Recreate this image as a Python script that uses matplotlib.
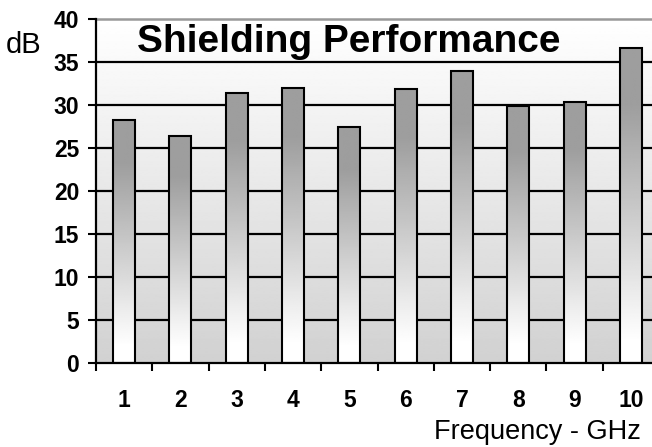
import numpy as np
import matplotlib
matplotlib.use("Agg")
import matplotlib.pyplot as plt

frequencies = [1, 2, 3, 4, 5, 6, 7, 8, 9, 10]
shielding_db = [28.3, 26.4, 31.4, 32.0, 27.4, 31.9, 33.9, 29.9, 30.4, 36.6]
y_ticks = [0, 5, 10, 15, 20, 25, 30, 35, 40]
title_text = "Shielding Performance"
y_label = "dB"
x_label = "Frequency - GHz"

plt.rcParams['font.family'] = ['Liberation Sans', 'DejaVu Sans']

W, H = 652, 447
fig = plt.figure(figsize=(W / 100, H / 100), dpi=100)
fig.patch.set_facecolor('white')
ax = fig.add_axes([96 / W, (H - 363) / H, 563 / W, 344 / H])

ax.set_xlim(0.5, 10.5)
ax.set_ylim(0, 40)

# background gradient
bg = np.linspace(0.82, 1.0, 256).reshape(-1, 1)
ax.imshow(bg, cmap='gray', vmin=0, vmax=1, aspect='auto', origin='lower',
          extent=[0.5, 10.5, 0, 40], zorder=0, interpolation='bilinear')

# gridlines
for yv in y_ticks[1:-1]:
    ax.axhline(yv, color='black', lw=1.6, zorder=1)
ax.axhline(40, color='#999999', lw=1.8, zorder=1, clip_on=False)

# bars with gradient
bw = 0.39
f = np.linspace(0, 1, 256)
vals = 1 - (1 - 0.62) * np.clip((f - 0.07) / 0.75, 0, 1)
grad = vals.reshape(-1, 1)
bars = ax.bar(frequencies, shielding_db, width=bw, facecolor='none',
              edgecolor='black', linewidth=1.5, zorder=3)
for rect in bars:
    x0 = rect.get_x()
    h = rect.get_height()
    im = ax.imshow(grad, cmap='gray', vmin=0, vmax=1, aspect='auto', origin='lower',
                   extent=[x0, x0 + bw, 0, h], zorder=2, interpolation='bilinear')
    im.set_clip_path(rect)

ax.set_xlim(0.5, 10.5)
ax.set_ylim(0, 40)

# spines
for s in ['top', 'right']:
    ax.spines[s].set_visible(False)
ax.spines['left'].set_linewidth(1.6)
ax.spines['bottom'].set_linewidth(1.6)
ax.spines['left'].set_zorder(4)
ax.spines['bottom'].set_zorder(4)

# ticks
ax.set_yticks(y_ticks)
ax.set_yticklabels([str(v) for v in y_ticks], fontsize=16.5, fontweight='bold')
ax.tick_params(axis='y', length=6, width=1.5, pad=6, direction='out')

boundaries = [v + 0.5 for v in [0] + frequencies]
ax.set_xticks(boundaries)
ax.set_xticklabels([''] * len(boundaries))
ax.tick_params(axis='x', which='major', length=6, width=1.5, direction='out')
ax.set_xticks(frequencies, minor=True)
ax.set_xticklabels([str(v) for v in frequencies], minor=True, fontsize=16.5, fontweight='bold')
ax.tick_params(axis='x', which='minor', length=0, pad=19)

# texts
fig.text(137 / W, (H - 52) / H, title_text, fontsize=28, fontweight='bold',
         ha='left', va='baseline')
fig.text(6 / W, (H - 53) / H, y_label, fontsize=21, ha='left', va='baseline')
fig.text(641 / W, (H - 439) / H, x_label, fontsize=19.5, ha='right', va='baseline')

fig.savefig('out.png', dpi=100)
